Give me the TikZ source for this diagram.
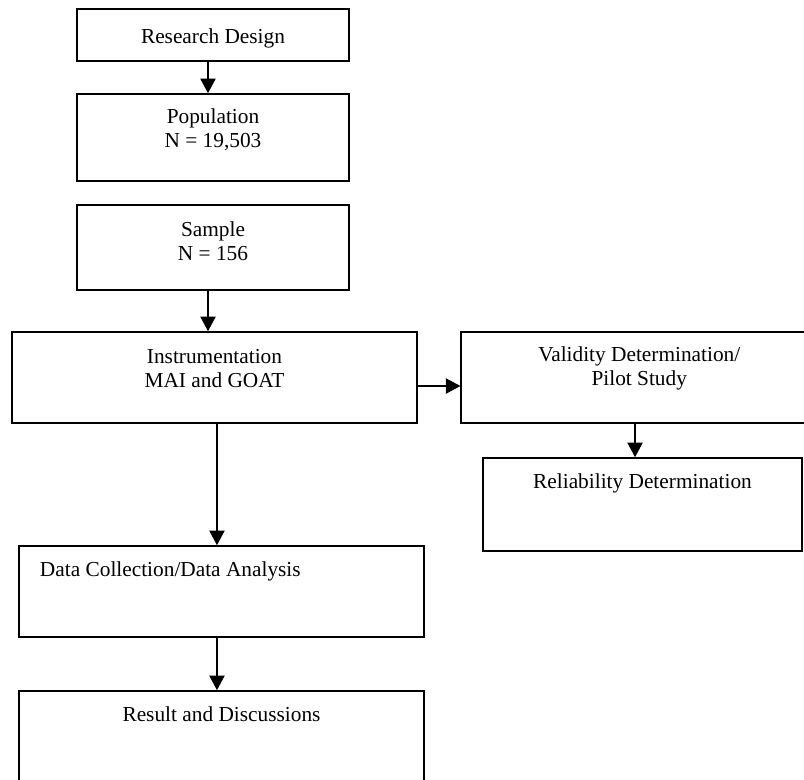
\documentclass[tikz,border=0pt]{standalone}
\usepackage{fontspec}
\setmainfont{Liberation Serif}
\usetikzlibrary{positioning}
\usetikzlibrary{arrows.meta}

\begin{document}
\begin{tikzpicture}[x=0.75pt,y=-0.75pt,
  box/.style={draw, line width=1.2pt, align=center, inner ysep=0pt, text height=23.25pt,
    font=\fontsize{16pt}{18pt}\selectfont},
  arr/.style={line width=1pt, -{Triangle[length=11pt,width=11.5pt]}}]

\useasboundingbox (0,0) rectangle (804,780);

% left column
\node (design) [box, minimum width=204pt, text height=26.25pt, text depth=12.75pt] at (213,35) {Research Design};
\node (pop) [box, minimum width=204pt, text height=40.5pt, text depth=24.75pt] at (213,137.5) {Population\\N = 19,503};
\node (sample) [box, minimum width=204pt, text height=41.75pt, text depth=22pt] at (213,247.5) {Sample\\N = 156};
\node (instr) [box, minimum width=303.75pt, text height=41.5pt, text depth=26.75pt] at (214.5,377.5) {Instrumentation\\MAI and GOAT};

% right column
\node (valid) [box, minimum width=267pt, text height=40.5pt, text depth=27.75pt, right=32pt of instr] {Validity Determination/\\Pilot Study};
\node (rel) [box, minimum width=239.25pt, text depth=46.5pt] at (642.5,504.5) {Reliability Determination};

% bottom
\node (data) [box, align=flush left, text width=272.25pt, inner xsep=15.75pt, text height=23pt, text depth=45.25pt] at (221.5,591.5) {Data Collection/Data Analysis};
\node (result) [box, minimum width=303.75pt, text height=23pt, text depth=46.75pt] at (221.5,737.5) {Result and Discussions};

\draw [arr] ([xshift=-3.75pt]design.south) -- ([xshift=-3.75pt]pop.north);
\draw [arr] ([xshift=-3.75pt]sample.south) -- ([xshift=-3.75pt]instr.north -| sample.south);
\draw [arr] ([yshift=-6.4pt]instr.east) -- ([yshift=-6.4pt]instr.east -| valid.west);
\draw [arr] ([xshift=-5.6pt]rel.north |- valid.south) -- ([xshift=-5.6pt]rel.north);
\draw [arr] ([xshift=-3.4pt]data.north |- instr.south) -- ([xshift=-3.4pt]data.north);
\draw [arr] ([xshift=-3.4pt]data.south) -- ([xshift=-3.4pt]result.north);
\end{tikzpicture}
\end{document}
